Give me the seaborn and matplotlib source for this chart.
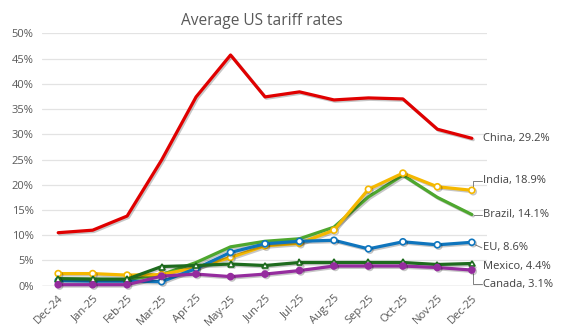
import matplotlib
matplotlib.use("Agg")
import matplotlib.pyplot as plt
import matplotlib.patheffects as pe
import seaborn as sns
import numpy as np

months = ["Dec-24", "Jan-25", "Feb-25", "Mar-25", "Apr-25", "May-25", "Jun-25",
          "Jul-25", "Aug-25", "Sep-25", "Oct-25", "Nov-25", "Dec-25"]

china = [10.5, 11.0, 13.8, 24.9, 37.4, 45.7, 37.4, 38.4, 36.8, 37.2, 37.0, 31.0, 29.2]
brazil = [1.3, 1.3, 1.2, 2.2, 4.6, 7.7, 8.8, 9.3, 11.6, 17.6, 21.9, 17.5, 14.1]
india = [2.4, 2.4, 2.1, 2.2, 3.6, 5.6, 7.9, 8.4, 11.0, 19.1, 22.3, 19.6, 18.9]
eu = [1.0, 0.9, 0.9, 0.8, 3.4, 6.6, 8.3, 8.8, 9.0, 7.3, 8.7, 8.1, 8.6]
mexico = [1.4, 1.3, 1.3, 3.8, 4.0, 4.3, 4.0, 4.6, 4.6, 4.6, 4.6, 4.2, 4.4]
canada = [0.2, 0.2, 0.2, 1.9, 2.3, 1.8, 2.3, 3.0, 3.9, 3.9, 3.9, 3.6, 3.1]

series = [
    # name, values, color, marker, marker face
    ("China", china, "#E00000", None, None),
    ("Brazil", brazil, "#4EA72E", None, None),
    ("India", india, "#F5B800", "o", "white"),
    ("EU", eu, "#0F75BD", "o", "white"),
    ("Mexico", mexico, "#1E6B1E", "^", "white"),
    ("Canada", canada, "#952C9E", "o", "#952C9E"),
]

sns.set_theme(style="white")
plt.rcParams["font.family"] = ["Open Sans", "DejaVu Sans"]

fig = plt.figure(figsize=(5.76, 3.36), dpi=100)
ax = fig.add_axes([42 / 576, 1 - 285.7 / 336, (487 - 42) / 576, (285.7 - 33.3) / 336])

x = np.arange(len(months))
shadow = [pe.SimpleLineShadow(offset=(1.0, -1.0), shadow_color="black", alpha=0.22), pe.Normal()]

for i, (name, vals, color, marker, face) in enumerate(series):
    kw = {}
    if marker is not None:
        kw = dict(marker=marker, markersize=4.3 if marker != "^" else 4.3,
                  markerfacecolor=face, markeredgecolor=color, markeredgewidth=1.2)
    sns.lineplot(x=x, y=vals, ax=ax, color=color, linewidth=2.3, zorder=3 + i,
                 clip_on=False, legend=False, path_effects=shadow, **kw)

ax.set_xlim(-0.47, 12.44)
ax.set_ylim(0, 50)
ax.set_yticks(np.arange(0, 51, 5))
ax.set_yticklabels([f"{v}%" for v in range(0, 51, 5)])
ax.set_xticks(x)
ax.set_xticklabels(months, rotation=45, ha="right", rotation_mode="anchor")
ax.tick_params(axis="both", length=0, labelsize=8, labelcolor="#595959")
ax.tick_params(axis="x", pad=5)
ax.tick_params(axis="y", pad=6)
ax.grid(axis="y", color="#E3E3E3", linewidth=0.9)
ax.grid(axis="x", visible=False)
for s in ax.spines.values():
    s.set_visible(False)
ax.axhline(0, color="#D0D0D0", linewidth=1.0, zorder=1)
ax.set_xlabel("")
ax.set_ylabel("")

fig.text(262 / 576, 1 - 21 / 336, "Average US tariff rates", ha="center", va="center",
         fontsize=11.2, color="#595959")

# end-of-line labels with leader lines
last = len(months) - 1
label_y = {"China": 29.2, "India": 20.8, "Brazil": 14.1, "EU": 7.5, "Mexico": 3.8, "Canada": 0.3}
values_end = {name: vals[-1] for name, vals, *_ in series}
lab_x = 12.33
for name, _, color, _, _ in series:
    ly = label_y[name]
    ax.text(lab_x, ly, f"{name}, {values_end[name]}%", fontsize=8, color="#404040",
            ha="left", va="center", clip_on=False)
lc = "#7F7F7F"
ax.plot([last + 0.02, last + 0.02, lab_x - 0.04], [values_end["India"] + 0.5, label_y["India"], label_y["India"]],
        color=lc, lw=0.7, clip_on=False, zorder=2)
ax.plot([last + 0.1, lab_x - 0.04], [values_end["EU"] - 0.5, label_y["EU"]],
        color=lc, lw=0.7, clip_on=False, zorder=2)
ax.plot([last + 0.02, last + 0.02, lab_x - 0.04], [values_end["Canada"] - 0.5, label_y["Canada"], label_y["Canada"]],
        color=lc, lw=0.7, clip_on=False, zorder=2)
ax.plot([last + 0.05, lab_x - 0.04], [values_end["Brazil"], label_y["Brazil"]],
        color=lc, lw=0.7, clip_on=False, zorder=2)

fig.savefig("out.png", dpi=100)
